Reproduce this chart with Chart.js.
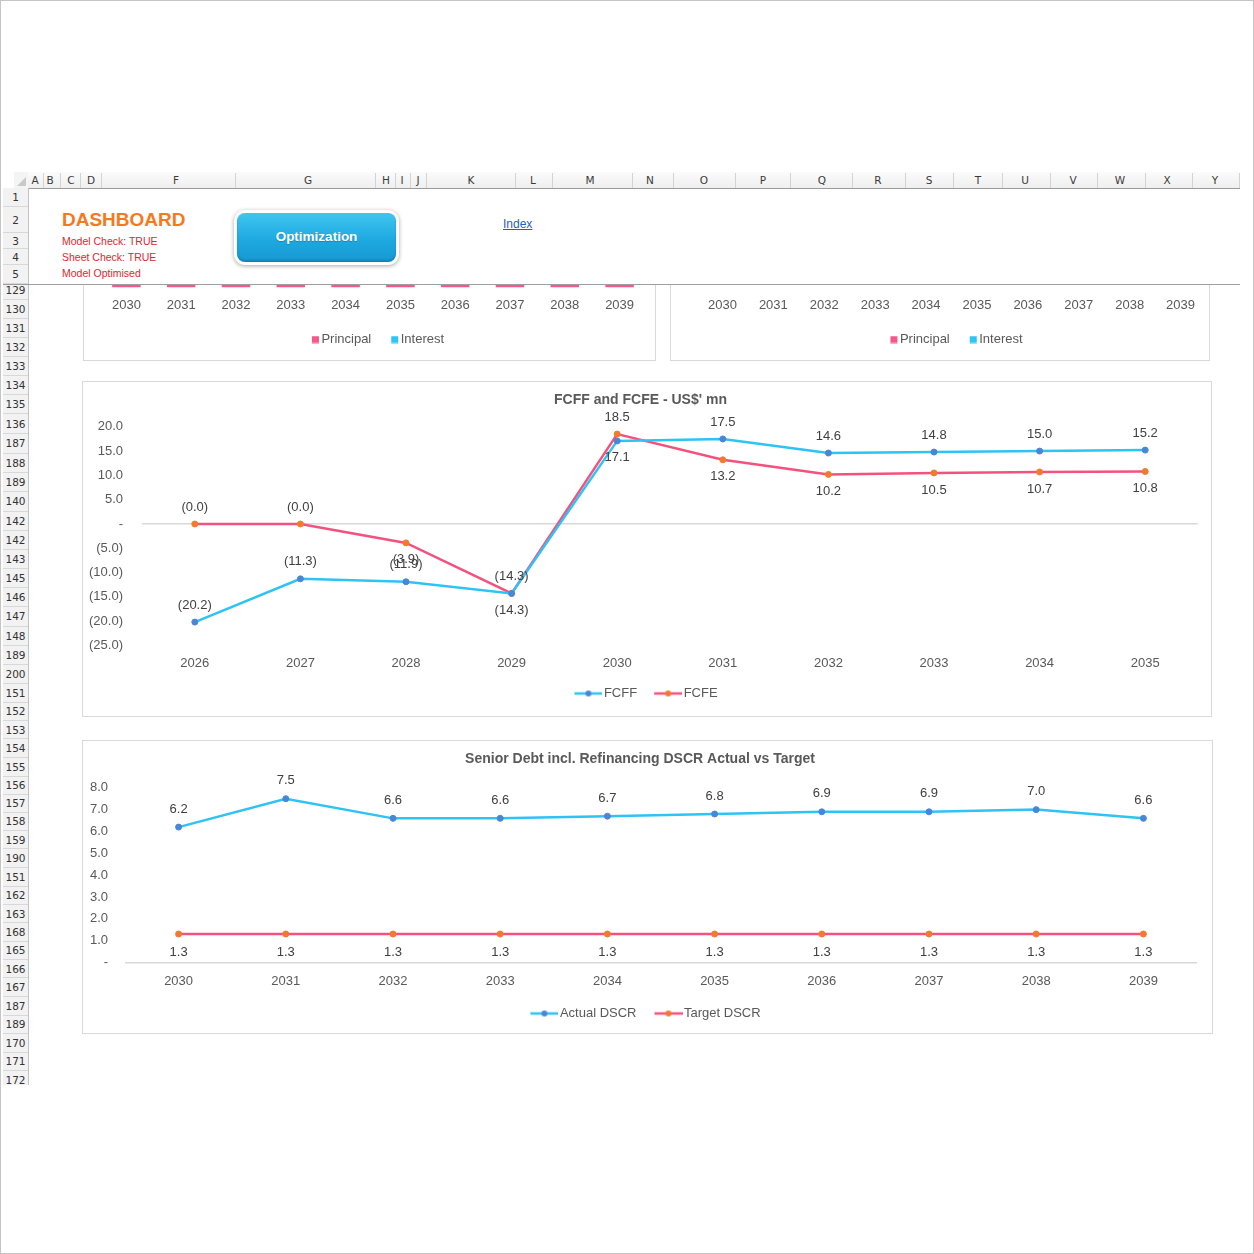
<!DOCTYPE html>
<html>
<head>
<meta charset="utf-8">
<title>Dashboard</title>
<script src="https://cdn.jsdelivr.net/npm/chart.js@4.4.1/dist/chart.umd.min.js"></script>
<style>
  html, body { margin: 0; padding: 0; background: #fff; }
  #page { position: relative; width: 1254px; height: 1254px; overflow: hidden; font-family: 'Liberation Sans', Arial, sans-serif; }
  #frame { position: absolute; left: 0; top: 0; width: 1254px; height: 1254px; box-sizing: border-box; border: 1px solid #c4c4c4; pointer-events: none; z-index: 9; }
  .abs { position: absolute; }
  #corner { left: 14px; top: 172px; width: 14px; height: 16px; background: #f4f4f4; border-bottom: 1px solid #9c9c9c; }
  #corner:after { content: ''; position: absolute; right: 2px; bottom: 2px; border-left: 9px solid transparent; border-bottom: 9px solid #c9c9c9; }
  #colhdr { left: 28px; top: 172px; width: 1212px; height: 16px; background: linear-gradient(#fbfbfb, #efefef); border-bottom: 1px solid #9c9c9c; }
  .colsep { position: absolute; top: 1px; width: 1px; height: 15px; background: #d3d3d3; }
  .collbl { position: absolute; top: 2px; font: 10.5px 'DejaVu Sans', sans-serif; color: #3a3a3a; transform: translateX(-50%); }
  .rowhdr { position: absolute; left: 0; width: 25px; background: #f2f2f2; border-right: 1px solid #c3c3c3; }
  .rowcell { position: absolute; left: 0; width: 25px; border-bottom: 1px solid #d8d8d8; box-sizing: border-box; font: 10.5px 'DejaVu Sans', sans-serif; color: #333; text-align: center; display: flex; align-items: center; justify-content: center; }
  #frozen { left: 3px; top: 188px; width: 1237px; height: 96px; }
  #freeze { left: 3px; top: 284px; width: 1237px; height: 1px; background: #9e9e9e; z-index: 3; }
  #scroll { left: 3px; top: 285px; width: 1237px; height: 800px; overflow: hidden; }
  .box { position: absolute; box-sizing: border-box; border: 1px solid #d9d9d9; background: #fff; }
  .box canvas { position: absolute; left: 0; top: 0; }
  #dash { left: 62px; top: 209px; font: bold 19px 'Liberation Sans', Arial, sans-serif; color: #f47a20; }
  .chk { left: 62px; font: 10.5px 'Liberation Sans', Arial, sans-serif; color: #e0262e; }
  #btn { left: 234px; top: 210px; width: 165px; height: 55px; border-radius: 11px; background: #fff; box-shadow: 0 1px 4px rgba(0,0,0,.35); }
  #btn .in { position: absolute; left: 3px; top: 3px; right: 3px; bottom: 3px; border-radius: 8px;
             background: linear-gradient(#3fc5f0, #1ea9e0 55%, #1598d3); box-shadow: inset 0 -2px 2px rgba(0,0,0,.15);
             color: #fff; font: bold 13.5px 'Liberation Sans', Arial, sans-serif; text-align: center; line-height: 47px; text-shadow: 0 1px 1px rgba(0,0,0,.2); }
  #idx { left: 503px; top: 217px; font: 12px 'Liberation Sans', Arial, sans-serif; color: #1f5fc4; text-decoration: underline; }
</style>
</head>
<body>
<div id="page">
  <div id="frame"></div>
  <div id="corner" class="abs"></div>
  <div id="colhdr" class="abs"></div>
  <div id="frozen" class="abs"></div>
  <div id="freeze" class="abs"></div>
  <div id="dash" class="abs">DASHBOARD</div>
  <div class="abs chk" style="top:235px">Model Check: TRUE</div>
  <div class="abs chk" style="top:251px">Sheet Check: TRUE</div>
  <div class="abs chk" style="top:267px">Model Optimised</div>
  <div id="btn" class="abs"><div class="in">Optimization</div></div>
  <div id="idx" class="abs">Index</div>
  <div id="scroll" class="abs">
    <div class="box" style="left:80px;top:-184px;width:573px;height:260px"><canvas id="debtA" width="571" height="258"></canvas></div>
    <div class="box" style="left:667px;top:-184px;width:540px;height:260px"><canvas id="debtB" width="538" height="258"></canvas></div>
    <div class="box" style="left:79px;top:96px;width:1130px;height:336px"><canvas id="cashflow" width="1128" height="334"></canvas></div>
    <div class="box" style="left:79px;top:455px;width:1131px;height:294px"><canvas id="dscr" width="1129" height="292"></canvas></div>
  </div>
</div>

<script>
// ---------- chart data ----------
const debtYears = ['2030', '2031', '2032', '2033', '2034', '2035', '2036', '2037', '2038', '2039'];
// bar tops sit behind the frozen rows, so these are only estimates
const principalA = [4.2, 4.6, 5.1, 5.5, 6.0, 6.5, 7.0, 7.6, 8.2, 8.8];
const interestA = [6.1, 5.8, 5.5, 5.1, 4.7, 4.3, 3.8, 3.3, 2.7, 2.1];
const principalB = [3.0, 3.3, 3.6, 3.9, 4.2, 4.6, 5.0, 5.4, 5.8, 6.2];
const interestB = [4.4, 4.2, 4.0, 3.7, 3.4, 3.1, 2.8, 2.4, 2.0, 1.6];

const cashYears = ['2026', '2027', '2028', '2029', '2030', '2031', '2032', '2033', '2034', '2035'];
const fcff = [-20.2, -11.3, -11.9, -14.3, 17.1, 17.5, 14.6, 14.8, 15.0, 15.2];
const fcfe = [-0.01, -0.01, -3.9, -14.3, 18.5, 13.2, 10.2, 10.5, 10.7, 10.8];
const cashTicks = { min: -25, max: 20, step: 5 };

const dscrYears = ['2030', '2031', '2032', '2033', '2034', '2035', '2036', '2037', '2038', '2039'];
const dscrActual = [6.2, 7.5, 6.6, 6.6, 6.7, 6.8, 6.9, 6.9, 7.0, 6.6];
const dscrTarget = [1.3, 1.3, 1.3, 1.3, 1.3, 1.3, 1.3, 1.3, 1.3, 1.3];
const dscrTicks = { min: 0, max: 8, step: 1 };

// ---------- sheet frame (headers) ----------
const colNames = ['A','B','C','D','F','G','H','I','J','K','L','M','N','O','P','Q','R','S','T','U','V','W','X','Y'];
const colCenters = [35,50,71,91,176,308,386,402,418,471,533,590,650,704,763,822,878,929,978,1025,1073,1120,1167,1215];
const colSeps = [43,60,80,101,235,375,395,410,426,515,552,632,673,735,790,852,905,953,1002,1050,1097,1145,1192,1239];
const topRows = ['1','2','3','4','5'];
const topRowEdges = [188, 207, 233, 249, 265, 284];
const rowNames = ['129','130','131','132','133','134','135','136','187','188','189','140','142','142','143','145','146','147','148','189','200',
  '151','152','153','154','155','156','157','158','159','190','151','162','163','168','165','166','167','187','189','170','171','172'];
const rowCenters = [290,309,328,347,366,385,404,424,444,463,482,502,521,540,559,578,597,617,636,655,674,
  693,712,730,748,767,786,803,822,840,858,877,896,914,932,951,969,987,1006,1025,1043,1062,1080];

const colhdr = document.getElementById('colhdr');
colSeps.forEach(x => {
  const s = document.createElement('div');
  s.className = 'colsep'; s.style.left = (x - 28) + 'px';
  colhdr.appendChild(s);
});
colNames.forEach((n, i) => {
  const l = document.createElement('div');
  l.className = 'collbl'; l.style.left = (colCenters[i] - 28) + 'px'; l.textContent = n;
  colhdr.appendChild(l);
});

function addRowHeader(parent, names, edges, offset) {
  const col = document.createElement('div');
  col.className = 'rowhdr';
  col.style.top = (edges[0] - offset) + 'px';
  col.style.height = (edges[edges.length - 1] - edges[0]) + 'px';
  parent.appendChild(col);
  names.forEach((n, i) => {
    const c = document.createElement('div');
    c.className = 'rowcell';
    c.style.top = (edges[i] - edges[0]) + 'px';
    c.style.height = (edges[i + 1] - edges[i]) + 'px';
    c.textContent = n;
    col.appendChild(c);
  });
}
addRowHeader(document.getElementById('frozen'), topRows, topRowEdges, 188);
const rowEdges = [rowCenters[0] - 9.5];
for (let i = 0; i < rowCenters.length - 1; i++) rowEdges.push((rowCenters[i] + rowCenters[i + 1]) / 2);
rowEdges.push(1090);
addRowHeader(document.getElementById('scroll'), rowNames, rowEdges, 285);

// ---------- chart helpers ----------
const SANS = "'Liberation Sans', Arial, sans-serif";
Chart.defaults.font.family = SANS;
Chart.defaults.font.size = 13;
Chart.defaults.color = '#595959';
Chart.defaults.animation = false;

const CYAN = '#2ec3f5', BLUE_DOT = '#4a86d6', PINK = '#f5517f', ORANGE_DOT = '#f27a2c';

function acct(v) {
  if (Math.abs(v) < 1e-9) return '-';
  return v < 0 ? '(' + Math.abs(v).toFixed(1) + ')' : v.toFixed(1);
}

// legend icons: the mark sits at the right end of a wider transparent canvas,
// so the text hugs the mark while items keep a wider gap between them
function lineIcon(lineColor, dotColor) {
  const c = document.createElement('canvas');
  c.width = 44; c.height = 8;
  const g = c.getContext('2d');
  g.strokeStyle = lineColor; g.lineWidth = 2.5;
  g.beginPath(); g.moveTo(16, 4); g.lineTo(44, 4); g.stroke();
  g.fillStyle = dotColor;
  g.beginPath(); g.arc(30, 4, 3, 0, Math.PI * 2); g.fill();
  return c;
}
function squareIcon(color) {
  const c = document.createElement('canvas');
  c.width = 23; c.height = 8;
  const g = c.getContext('2d');
  g.fillStyle = color;
  g.fillRect(15, 0.5, 7, 7);
  return c;
}

function iconLegend(icons, styleWidth, pad) {
  return {
    position: 'bottom',
    labels: {
      usePointStyle: true, pointStyleWidth: styleWidth, boxHeight: 8, padding: pad, color: '#595959',
      font: { size: 13 },
      generateLabels(chart) {
        return chart.data.datasets.map((ds, i) => ({
          text: ds.label, pointStyle: icons[i], datasetIndex: i, hidden: false,
          fillStyle: 'transparent', strokeStyle: 'transparent', lineWidth: 0, fontColor: '#595959'
        }));
      }
    }
  };
}

// data labels drawn above / below each point
function pointLabels(sides, offset) {
  return {
    id: 'pointLabels',
    afterDatasetsDraw(chart) {
      const ctx = chart.ctx;
      ctx.save();
      ctx.font = '13px ' + SANS;
      ctx.fillStyle = '#404040';
      ctx.textAlign = 'center';
      ctx.textBaseline = 'middle';
      chart.data.datasets.forEach((ds, i) => {
        chart.getDatasetMeta(i).data.forEach((pt, j) => {
          const dy = sides[i][j] === 'top' ? -offset : offset;
          ctx.fillText(acct(ds.data[j]), pt.x, pt.y + dy);
        });
      });
      ctx.restore();
    }
  };
}

function lineSet(label, data, lineColor, dotColor) {
  return {
    label, data, borderColor: lineColor, borderWidth: 2.5, tension: 0,
    pointRadius: 3, pointBackgroundColor: dotColor, pointBorderColor: dotColor, pointBorderWidth: 1,
    fill: false
  };
}

function zeroGrid(ctx) { return ctx.tick && ctx.tick.value === 0 ? '#d9d9d9' : 'rgba(0,0,0,0)'; }

// ---------- debt service bar charts (mostly hidden behind frozen rows) ----------
function debtChart(id, principal, interest, pad, yMin) {
  new Chart(document.getElementById(id), {
    type: 'bar',
    data: {
      labels: debtYears,
      datasets: [
        { label: 'Principal', data: principal, backgroundColor: '#f5588a', categoryPercentage: 1, barPercentage: 0.52 },
        { label: 'Interest', data: interest, backgroundColor: '#2ec5f4', categoryPercentage: 1, barPercentage: 0.52 }
      ]
    },
    options: {
      responsive: false,
      layout: { padding: pad },
      plugins: {
        tooltip: { enabled: false },
        legend: iconLegend([squareIcon('#f5588a'), squareIcon('#2ec5f4')], 13, 10)
      },
      scales: {
        x: { stacked: true, grid: { display: false, drawTicks: false }, border: { display: false },
             ticks: { padding: 10, color: '#595959', autoSkip: false, maxRotation: 0 } },
        y: { stacked: true, display: false, min: yMin, max: 14 }
      }
    }
  });
}
debtChart('debtA', principalA, interestA, { left: 15, right: 8, top: 10, bottom: 4 }, 0);
debtChart('debtB', principalB, interestB, { left: 26, right: 3, top: 10, bottom: 4 }, -0.4);

// ---------- FCFF and FCFE ----------
new Chart(document.getElementById('cashflow'), {
  type: 'line',
  data: {
    labels: cashYears,
    datasets: [
      lineSet('FCFF', fcff, CYAN, BLUE_DOT),
      lineSet('FCFE', fcfe, PINK, ORANGE_DOT)
    ]
  },
  plugins: [pointLabels([
    ['top','top','top','bottom','bottom','top','top','top','top','top'],
    ['top','top','bottom','top','top','bottom','bottom','bottom','bottom','bottom']
  ], 17)],
  options: {
    responsive: false,
    layout: { padding: { left: 0, right: 13, top: 0, bottom: 6 } },
    plugins: {
      tooltip: { enabled: false },
      title: { display: true, text: "FCFF and FCFE - US$' mn", color: '#595959',
               font: { family: SANS, size: 14, weight: 'bold' }, padding: { top: 10, bottom: 18 } },
      legend: iconLegend([lineIcon(CYAN, BLUE_DOT), lineIcon(PINK, ORANGE_DOT)], 34, 6)
    },
    scales: {
      x: { offset: true, grid: { display: false, drawTicks: false }, border: { display: false },
           ticks: { padding: 10, color: '#595959' } },
      y: {
        min: cashTicks.min, max: cashTicks.max,
        afterFit(s) { s.width = 59; },
        border: { display: false },
        grid: { color: zeroGrid, lineWidth: 1.5, drawTicks: false },
        ticks: { stepSize: cashTicks.step, padding: 19, color: '#595959', callback: v => acct(v) }
      }
    }
  }
});

// ---------- Senior Debt DSCR ----------
new Chart(document.getElementById('dscr'), {
  type: 'line',
  data: {
    labels: dscrYears,
    datasets: [
      lineSet('Actual DSCR', dscrActual, CYAN, BLUE_DOT),
      lineSet('Target DSCR', dscrTarget, PINK, ORANGE_DOT)
    ]
  },
  plugins: [pointLabels([
    dscrActual.map(() => 'top'),
    dscrTarget.map(() => 'bottom')
  ], 18)],
  options: {
    responsive: false,
    layout: { padding: { left: 0, right: 15, top: 0, bottom: 3 } },
    plugins: {
      tooltip: { enabled: false },
      title: { display: true, text: 'Senior Debt incl. Refinancing DSCR Actual vs Target', color: '#595959',
               font: { family: SANS, size: 14, weight: 'bold' }, padding: { top: 10, bottom: 20 } },
      legend: iconLegend([lineIcon(CYAN, BLUE_DOT), lineIcon(PINK, ORANGE_DOT)], 34, 7)
    },
    scales: {
      x: { offset: true, grid: { display: false, drawTicks: false }, border: { display: false },
           ticks: { padding: 11, color: '#595959' } },
      y: {
        min: dscrTicks.min, max: dscrTicks.max,
        afterFit(s) { s.width = 42; },
        border: { display: false },
        grid: { color: zeroGrid, lineWidth: 1.5, drawTicks: false },
        ticks: { stepSize: dscrTicks.step, padding: 17, color: '#595959', callback: v => acct(v) }
      }
    }
  }
});
</script>
</body>
</html>
